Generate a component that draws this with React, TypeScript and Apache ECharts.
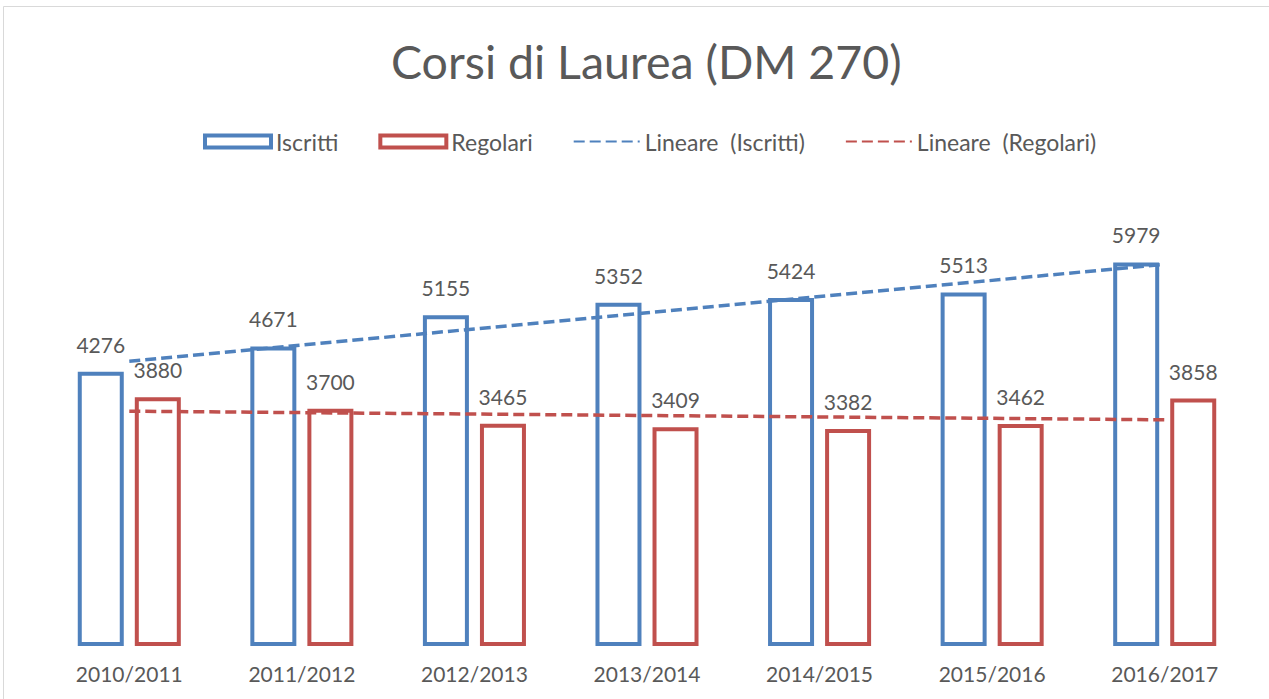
import React, { useEffect, useRef } from "react";
import * as echarts from "echarts";

const categories = ["2010/2011", "2011/2012", "2012/2013", "2013/2014", "2014/2015", "2015/2016", "2016/2017"];
const iscritti = [4276, 4671, 5155, 5352, 5424, 5513, 5979];
const regolari = [3880, 3700, 3465, 3409, 3382, 3462, 3858];

const titleText = "Corsi di Laurea (DM 270)";
const BLUE = "#4f81bd";
const RED = "#c0504d";
const GRAY = "#595959";
const FONT = "Lato, 'Noto Sans', sans-serif";

// Excel "Lineare" trendline: least-squares fit over category index
function linearTrend(values: number[]): number[] {
  const n = values.length;
  const xs = values.map((_, i) => i + 1);
  const mx = xs.reduce((a, b) => a + b, 0) / n;
  const my = values.reduce((a, b) => a + b, 0) / n;
  let num = 0;
  let den = 0;
  for (let i = 0; i < n; i++) {
    num += (xs[i] - mx) * (values[i] - my);
    den += (xs[i] - mx) * (xs[i] - mx);
  }
  const slope = num / den;
  const icpt = my - slope * mx;
  return xs.map((x) => +(icpt + slope * x).toFixed(1));
}

export default function App() {
  const ref = useRef<HTMLDivElement>(null);
  useEffect(() => {
    if (!ref.current) return;
    const chart = echarts.init(ref.current, undefined, { renderer: "svg" });
    const barLabel = {
      show: true,
      position: "top",
      distance: 17,
      color: GRAY,
      fontSize: 21,
      fontFamily: FONT,
    };
    chart.setOption({
      animation: false,
      backgroundColor: "#ffffff",
      title: {
        text: titleText,
        left: 386,
        top: 32,
        textStyle: { color: GRAY, fontSize: 46.5, fontWeight: "normal", fontFamily: FONT },
      },
      legend: {
        top: 125,
        left: 198,
        itemWidth: 66,
        itemHeight: 12,
        itemGap: 40,
        textStyle: { color: GRAY, fontSize: 23, fontFamily: FONT },
        data: [
          { name: "Iscritti", icon: "rect", itemStyle: { color: "#ffffff", borderColor: BLUE, borderWidth: 4 } },
          { name: "Regolari", icon: "rect", itemStyle: { color: "#ffffff", borderColor: RED, borderWidth: 4 } },
          { name: "Lineare  (Iscritti)", itemStyle: { opacity: 0 } },
          { name: "Lineare  (Regolari)", itemStyle: { opacity: 0 } },
        ],
      },
      graphic: [
        {
          type: "rect",
          shape: { x: 3.5, y: 6.5, width: 1280, height: 720 },
          style: { fill: "none", stroke: "#d9d9d9", lineWidth: 1 },
          silent: true,
        },
      ],
      grid: { left: 43, right: 18, top: 197, bottom: 53 },
      xAxis: {
        type: "category",
        data: categories,
        axisLine: { show: false },
        axisTick: { show: false },
        axisLabel: { color: GRAY, fontSize: 21, fontFamily: FONT, margin: 17 },
      },
      yAxis: {
        type: "value",
        min: 0,
        max: 7000,
        show: false,
        splitLine: { show: false },
      },
      series: [
        {
          name: "Iscritti",
          type: "bar",
          data: iscritti,
          barWidth: 46,
          barGap: "24%",
          itemStyle: { color: "#ffffff", borderColor: BLUE, borderWidth: 4 },
          label: barLabel,
        },
        {
          name: "Regolari",
          type: "bar",
          data: regolari,
          barWidth: 46,
          itemStyle: { color: "#ffffff", borderColor: RED, borderWidth: 4 },
          label: barLabel,
        },
        {
          name: "Lineare  (Iscritti)",
          type: "line",
          data: linearTrend(iscritti),
          symbol: "none",
          z: 5,
          lineStyle: { color: BLUE, width: 3.5, type: [11, 5] },
          itemStyle: { color: BLUE },
        },
        {
          name: "Lineare  (Regolari)",
          type: "line",
          data: linearTrend(regolari),
          symbol: "none",
          z: 5,
          lineStyle: { color: RED, width: 3.5, type: [11, 5] },
          itemStyle: { color: RED },
        },
      ],
    });
    return () => chart.dispose();
  }, []);
  return (
    <div
      ref={ref}
      style={{ position: "fixed", left: 0, top: 0, width: 1269, height: 699 }}
    />
  );
}
